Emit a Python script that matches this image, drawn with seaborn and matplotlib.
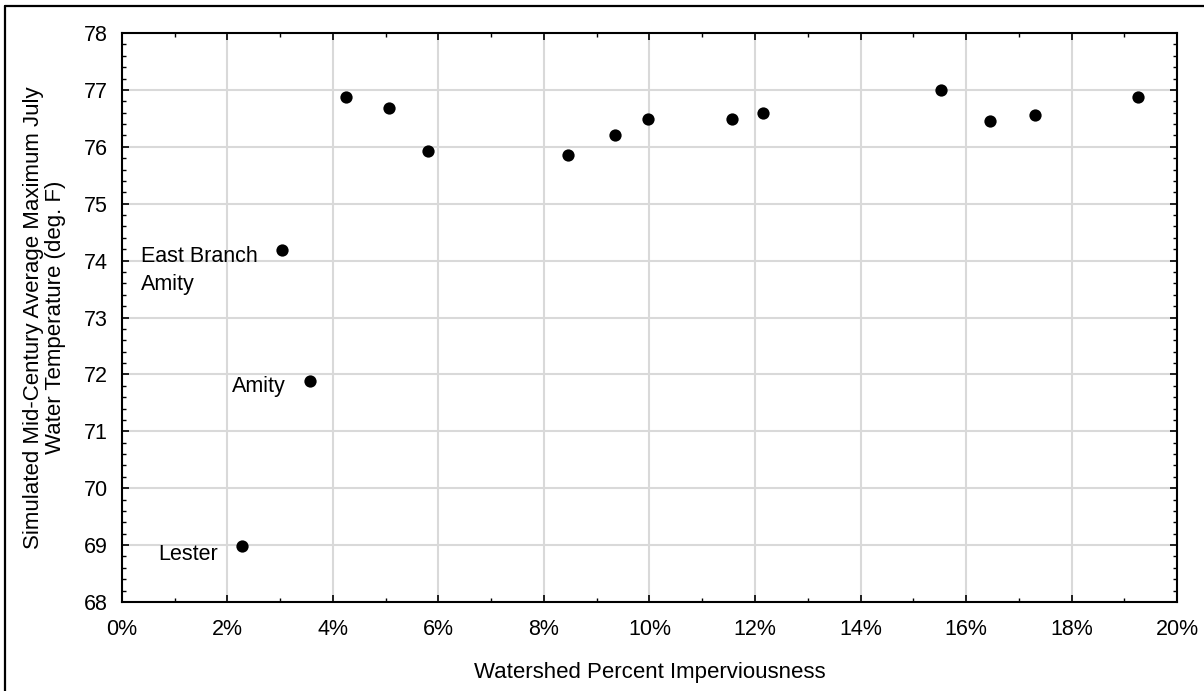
import matplotlib
matplotlib.use("Agg")
import matplotlib.pyplot as plt
import seaborn as sns
import pandas as pd
from matplotlib.ticker import MultipleLocator, FuncFormatter
from matplotlib.lines import Line2D

# Data
imperv_pct = [2.27, 3.03, 3.56, 4.24, 5.06, 5.81, 8.45, 9.34, 9.98, 11.57,
              12.16, 15.53, 16.46, 17.31, 19.26]
max_temp = [68.98, 74.19, 71.88, 76.87, 76.68, 75.92, 75.86, 76.20, 76.49,
            76.49, 76.59, 77.00, 76.46, 76.56, 76.88]
site_labels = ["Lester", "East Branch\nAmity", "Amity"] + [""] * 12

df = pd.DataFrame({"imperv": imperv_pct, "temp": max_temp, "label": site_labels})

sns.set_theme(style="white")
plt.rcParams["font.family"] = ["Liberation Sans", "DejaVu Sans"]

fig = plt.figure(figsize=(12.04, 6.91), dpi=100)
ax = fig.add_axes([0.1013, 0.1288, 0.8763, 0.8234])

sns.scatterplot(data=df, x="imperv", y="temp", ax=ax, color="black",
                s=78, edgecolor="black", linewidth=0, zorder=3)

ax.set_xlim(0, 20)
ax.set_ylim(68, 78)
ax.xaxis.set_major_locator(MultipleLocator(2))
ax.xaxis.set_minor_locator(MultipleLocator(1))
ax.yaxis.set_major_locator(MultipleLocator(1))
ax.yaxis.set_minor_locator(MultipleLocator(0.2))
ax.xaxis.set_major_formatter(FuncFormatter(lambda v, p: f"{v:.0f}%"))
ax.yaxis.set_major_formatter(FuncFormatter(lambda v, p: f"{v:.0f}"))

ax.grid(True, which="major", color="#d9d9d9", linewidth=1.5, zorder=0)
ax.set_axisbelow(True)
for sp in ax.spines.values():
    sp.set_visible(True)
    sp.set_color("black")
    sp.set_linewidth(1.5)

ax.tick_params(which="both", direction="in", top=True, right=True,
               bottom=True, left=True, colors="black")
ax.tick_params(which="major", length=5, width=1.2, labelsize=15.5)
ax.tick_params(which="minor", length=3, width=1.0)
ax.tick_params(axis="x", which="major", pad=12)
ax.tick_params(axis="y", which="major", pad=10)

ax.set_xlabel("Watershed Percent Imperviousness", fontsize=16, labelpad=16,
              color="black")
ax.set_ylabel("Simulated Mid-Century Average Maximum July\nWater Temperature (deg. F)",
              fontsize=16, labelpad=13, color="black", linespacing=1.07)

# Annotations
offsets = {"Lester": (-24, -8, "right", "center"),
           "Amity": (-24, -5, "right", "center"),
           "East Branch\nAmity": (-141, 4, "left", "top")}
for _, r in df.iterrows():
    if r["label"]:
        dx, dy, ha, va = offsets[r["label"]]
        ax.annotate(r["label"], (r["imperv"], r["temp"]), xytext=(dx, dy),
                    textcoords="offset pixels", ha=ha, va=va, fontsize=15.5,
                    color="black", linespacing=1.45, multialignment="left")

# Frame lines on the top and left edges of the figure (cropped border)
fig.lines.append(Line2D([0.0042, 1.0], [0.9920, 0.9920], transform=fig.transFigure,
                        color="black", linewidth=1.6))
fig.lines.append(Line2D([0.0042, 0.0042], [0.0, 0.9920], transform=fig.transFigure,
                        color="black", linewidth=1.6))

fig.savefig("out.png", dpi=100)
